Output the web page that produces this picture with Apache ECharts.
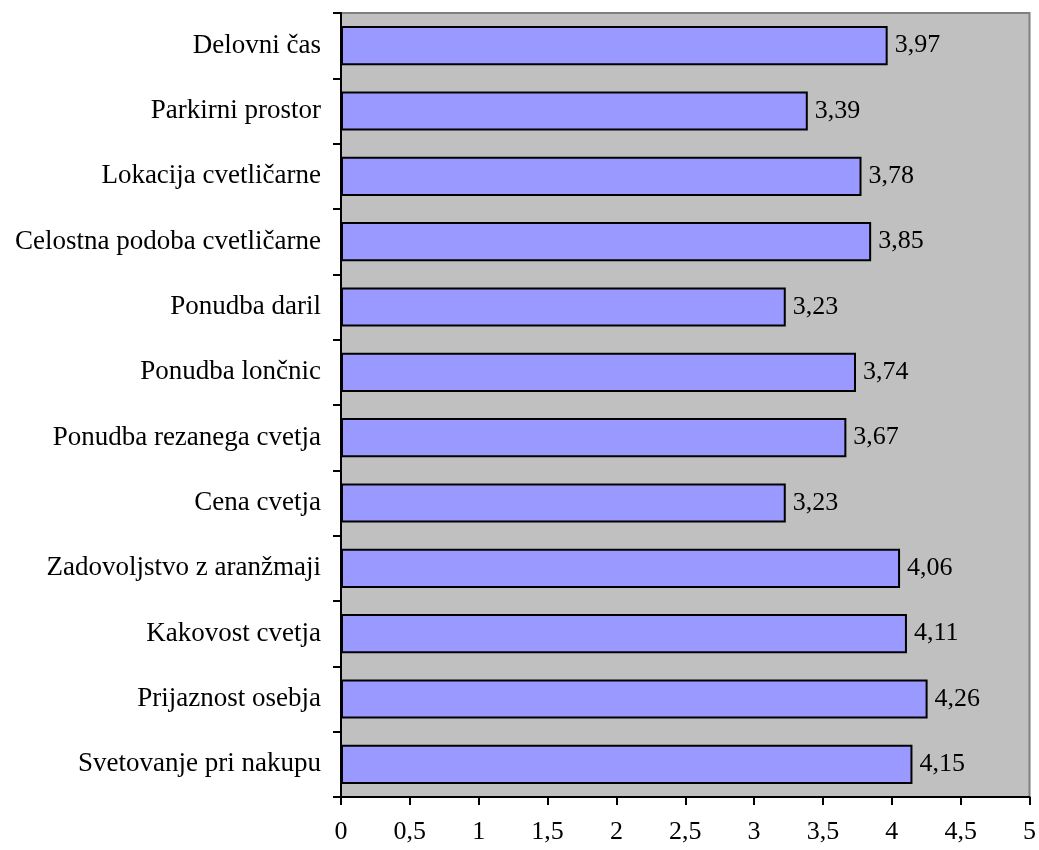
<!DOCTYPE html>
<html>
<head>
<meta charset="utf-8">
<script src="https://cdn.jsdelivr.net/npm/echarts@6/dist/echarts.min.js"></script>
<style>
  html, body { margin: 0; padding: 0; background: #ffffff; }
  #chart { width: 1039px; height: 850px; }
</style>
</head>
<body>
<div id="chart"></div>
<script>
// Survey items, top to bottom
const categories = [
  'Delovni čas',
  'Parkirni prostor',
  'Lokacija cvetličarne',
  'Celostna podoba cvetličarne',
  'Ponudba daril',
  'Ponudba lončnic',
  'Ponudba rezanega cvetja',
  'Cena cvetja',
  'Zadovoljstvo z aranžmaji',
  'Kakovost cvetja',
  'Prijaznost osebja',
  'Svetovanje pri nakupu'
];
// Average rating per item
const scores = [3.97, 3.39, 3.78, 3.85, 3.23, 3.74, 3.67, 3.23, 4.06, 4.11, 4.26, 4.15];

const fmt = v => String(v).replace('.', ',');
const font = 'Liberation Serif, Times New Roman, serif';

const chart = echarts.init(document.getElementById('chart'));
chart.setOption({
  animation: false,
  textStyle: { fontFamily: font },
  grid: {
    left: 341, right: 7, top: 13, bottom: 53,
    show: true,
    backgroundColor: '#c0c0c0',
    borderColor: '#808080',
    borderWidth: 2
  },
  xAxis: {
    type: 'value',
    min: 0, max: 5, interval: 0.5,
    splitLine: { show: false },
    axisLine: { show: true, onZero: false, lineStyle: { color: '#000', width: 2 } },
    axisTick: { show: true, length: 8, lineStyle: { color: '#000', width: 2 } },
    axisLabel: {
      color: '#000', fontSize: 26, fontFamily: font, margin: 22,
      formatter: v => fmt(v)
    }
  },
  yAxis: {
    type: 'category',
    data: categories,
    inverse: true,
    axisLine: { show: true, lineStyle: { color: '#000', width: 2 } },
    axisTick: { show: true, length: 8, lineStyle: { color: '#000', width: 2 } },
    axisLabel: { color: '#000', fontSize: 27, fontFamily: font, margin: 20 }
  },
  series: [{
    type: 'bar',
    data: scores,
    barCategoryGap: '40%',
    itemStyle: { color: '#9999ff', borderColor: '#000', borderWidth: 2 },
    label: {
      show: true,
      position: 'right',
      distance: 7,
      color: '#000',
      fontSize: 26,
      fontFamily: font,
      formatter: p => fmt(p.value)
    }
  }]
});
</script>
</body>
</html>
